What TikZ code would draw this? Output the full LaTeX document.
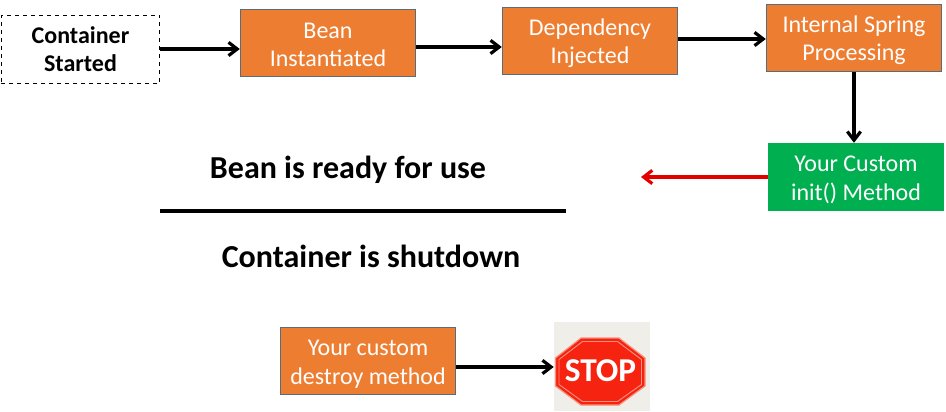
\documentclass[tikz,border=0pt]{standalone}
\usepackage{fontspec}
\setmainfont{Carlito}
\usetikzlibrary{arrows.meta}
\definecolor{boxorange}{HTML}{ED7D31}
\definecolor{boxgreen}{HTML}{00B050}
\definecolor{boxedge}{HTML}{5A6B7B}
\definecolor{stopred}{HTML}{F5230F}
\definecolor{stopline}{HTML}{F9907F}
\definecolor{stopback}{HTML}{F0EEE9}
\newcommand{\boxstrut}{\rule{0pt}{16pt}}
\begin{document}
\begin{tikzpicture}[
  x=0.75pt, y=-0.75pt,
  box/.style={rectangle, draw=boxedge, line width=0.8pt, fill=boxorange, text=white, minimum width=131.5pt, minimum height=50.5pt, align=center, inner sep=0pt, font=\fontsize{18}{21.5}\selectfont},
  arrow/.style={->, >={Straight Barb[length=6.5pt,width=10pt]}, line width=2.4pt},
  heading/.style={font=\fontsize{24}{28}\selectfont\bfseries}
]
  \useasboundingbox (0,0) rectangle (946,411);

  % Top row
  \node[rectangle, draw, dashed, line width=0.6pt, minimum width=119pt, minimum height=51pt, align=center, inner sep=0pt, font=\fontsize{18}{21.5}\selectfont\bfseries] (started) at (80.5,49) {Container\\Started};
  \node[box] (bean) at (328,43) {\rule{0pt}{14.5pt}Bean\\Instantiated};
  \node[box] (inject) at (590,41) {\boxstrut Dependency\\Injected};
  \node[box] (internal) at (854,38) {\boxstrut Internal Spring\\Processing};

  % Custom init
  \node[box, fill=boxgreen, draw=boxgreen] (init) at (856,177) {\boxstrut Your Custom\\init() Method};
  \coordinate (ready) at (641,177);

  % Middle headings
  \node[heading] (usetext) at (348,169.5) {Bean is ready for use};
  \coordinate (ruleleft) at (160,211);
  \coordinate (ruleright) at (566,211);
  \node[heading] (shuttext) at (371,256) {Container is shutdown};

  % Bottom row
  \node[box] (destroy) at (368,361) {\boxstrut Your custom\\destroy method};
  \node[rectangle, fill=stopback, minimum width=72pt, minimum height=67pt, inner sep=0pt] (stopimg) at (602,366.5) {};
  \draw[fill=stopred, draw=stopline, line width=0.9pt] (555.5,358) -- (581,338) -- (619,338) -- (645,358) -- (645,386) -- (619,405) -- (581,405) -- (555.5,386) -- cycle;
  \draw[draw=stopline, line width=0.7pt] (559,359.5) -- (582.5,341.5) -- (617.5,341.5) -- (641.5,359.5) -- (641.5,384.5) -- (617.5,401.5) -- (582.5,401.5) -- (559,384.5) -- cycle;
  \node[text=white, font=\fontsize{25}{27}\selectfont\bfseries] (stoptext) at (600.5,371) {STOP};

  % Arrows along the top row
  \draw[arrow] (started.east |- 0,49) -- (bean.west |- 0,49);
  \draw[arrow] (bean.east |- 0,47) -- (inject.west |- 0,47);
  \draw[arrow] (inject.east |- 0,39) -- (internal.west |- 0,39);
  \draw[arrow] (internal.south) -- (init.north -| internal.south);

  % Red arrow out of init
  \draw[arrow, draw=red!90!black] (init.west) -- (ready);

  % Rule between headings
  \draw[line width=2.4pt] (ruleleft) -- (ruleright);

  % Destroy to stop
  \draw[arrow] (destroy.east |- 0,367) -- (stopimg.west |- 0,367);
\end{tikzpicture}
\end{document}
